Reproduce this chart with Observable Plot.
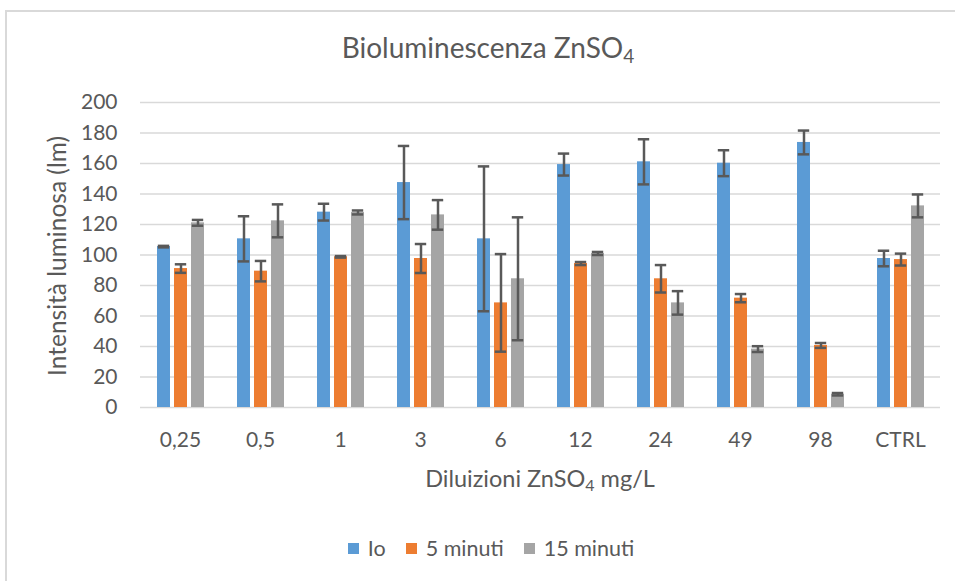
<!DOCTYPE html>
<html>
<head>
<meta charset="utf-8">
<script src="https://cdn.jsdelivr.net/npm/d3@7"></script>
<script src="https://cdn.jsdelivr.net/npm/@observablehq/plot@0.6"></script>
<style>
  html, body { margin: 0; padding: 0; background: #fff; }
  #wrap { position: relative; width: 955px; height: 581px; overflow: hidden; font-family: Lato, "Open Sans", sans-serif; color: #595959; }
  #border { position: absolute; left: 5px; top: 10px; right: -10px; bottom: -10px; border-left: 2px solid #d9d9d9; border-top: 2px solid #d9d9d9; }
  .layer { position: absolute; left: 0; top: 0; }
  #title { position: absolute; left: 0; width: 976px; top: 33px; text-align: center; font-size: 28px; line-height: 28px; white-space: nowrap; }
  #xtitle { position: absolute; left: 140px; width: 800px; top: 467px; text-align: center; font-size: 23.5px; line-height: 23.5px; white-space: nowrap; }
  #ytitle { position: absolute; left: 57px; top: 256px; transform: translate(-50%, -50%) rotate(-90deg); font-size: 24.5px; line-height: 24.5px; white-space: nowrap; }
  sub { font-size: 0.68em; vertical-align: -0.28em; line-height: 0; }
  #legend { position: absolute; left: 0; width: 982px; top: 538px; display: flex; justify-content: center; gap: 20px; font-size: 21.5px; line-height: 21.5px; }
  #legend .item { display: flex; align-items: center; gap: 9px; }
  #legend .sw { width: 11px; height: 11px; display: inline-block; }
</style>
</head>
<body>
<div id="wrap">
  <div id="border"></div>
  <div id="title">Bioluminescenza ZnSO<sub>4</sub></div>
  <div id="ytitle">Intensità luminosa (lm)</div>
  <div id="xtitle">Diluizioni ZnSO<sub>4</sub> mg/L</div>
  <div id="legend"></div>
</div>
<script>
const categories = ["0,25", "0,5", "1", "3", "6", "12", "24", "49", "98", "CTRL"];
const seriesNames = ["Io", "5 minuti", "15 minuti"];
const seriesColors = ["#5B9BD5", "#ED7D31", "#A5A5A5"];
const yTicks = [0, 20, 40, 60, 80, 100, 120, 140, 160, 180, 200];

const ioValues     = [105.5, 110.6, 128.1, 147.5, 110.6, 159.3, 161.1, 160.2, 173.8, 97.7];
const ioErrors     = [0.5, 14.8, 5.5, 24, 47.5, 7.2, 14.8, 8.5, 7.8, 5.1];
const min5Values   = [91.1, 89.4, 98.8, 97.7, 68.6, 94.4, 84.4, 71.7, 40.7, 97];
const min5Errors   = [2.8, 6.7, 0.5, 9.5, 32, 1, 9, 2.7, 1.6, 3.9];
const min15Values  = [121.1, 122.4, 127.9, 126.3, 84.4, 101, 68.6, 38.3, 8.7, 132.2];
const min15Errors  = [1.9, 10.8, 1.3, 9.7, 40.3, 1, 7.7, 1.9, 0.8, 7.5];

const valueSets = [ioValues, min5Values, min15Values];
const errorSets = [ioErrors, min5Errors, min15Errors];

const rows = [];
categories.forEach((c, i) => {
  seriesNames.forEach((s, j) => {
    rows.push({ cat: c, series: s, v: valueSets[j][i], e: errorSets[j][i] });
  });
});

const W = 955, H = 460;
const margins = { marginTop: 102, marginBottom: 53, marginLeft: 140, marginRight: 15 };
const baseStyle = { color: "#595959", fontSize: "21px", fontFamily: "Lato, 'Open Sans', sans-serif", background: "transparent", overflow: "visible" };

// Background layer: gridlines + y axis
const back = Plot.plot({
  width: W, height: H, ...margins,
  style: baseStyle,
  y: { domain: [0, 200], ticks: yTicks, tickSize: 0, tickPadding: 23, label: null },
  marks: [
    Plot.ruleY(yTicks, { stroke: "#d9d9d9", strokeWidth: 1.6 })
  ]
});
back.classList.add("layer");

// Foreground layer: bars and error bars, faceted by category
const front = Plot.plot({
  width: W, height: H, ...margins,
  style: baseStyle,
  facet: { data: rows, x: "cat", label: null },
  fx: { domain: categories, paddingInner: 0.4, paddingOuter: 0.2, tickSize: 0, tickPadding: 25, label: null },
  x: { domain: seriesNames, paddingInner: 0.24, paddingOuter: 0, axis: null },
  y: { domain: [0, 200], axis: null },
  color: { domain: seriesNames, range: seriesColors },
  marks: [
    Plot.barY(rows, { x: "series", y: "v", fill: "series" }),
    Plot.ruleX(rows, { x: "series", y1: d => d.v - d.e, y2: d => d.v + d.e, stroke: "#595959", strokeWidth: 2.5 }),
    Plot.tickY(rows, { x: "series", y: d => d.v + d.e, stroke: "#595959", strokeWidth: 2.5, insetLeft: 0.8, insetRight: 0.8 }),
    Plot.tickY(rows, { x: "series", y: d => d.v - d.e, stroke: "#595959", strokeWidth: 2.5, insetLeft: 0.8, insetRight: 0.8 })
  ]
});
front.classList.add("layer");

const wrap = document.getElementById("wrap");
wrap.insertBefore(back, document.getElementById("title"));
wrap.insertBefore(front, document.getElementById("title"));

const legend = document.getElementById("legend");
seriesNames.forEach((s, j) => {
  const item = document.createElement("div");
  item.className = "item";
  const sw = document.createElement("span");
  sw.className = "sw";
  sw.style.background = seriesColors[j];
  const t = document.createElement("span");
  t.textContent = s;
  item.appendChild(sw);
  item.appendChild(t);
  legend.appendChild(item);
});
</script>
</body>
</html>
